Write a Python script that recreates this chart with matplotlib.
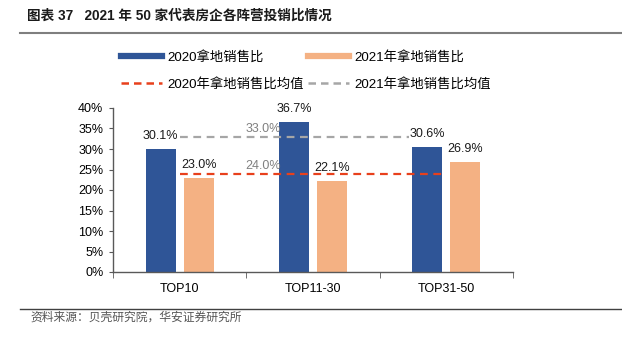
import matplotlib
matplotlib.use('Agg')
import matplotlib.pyplot as plt
from matplotlib.lines import Line2D
import numpy as np

plt.rcParams['font.family'] = ['Liberation Sans', 'Noto Sans CJK SC']

categories = ['TOP10', 'TOP11-30', 'TOP31-50']
ratio_2020 = [30.1, 36.7, 30.6]
ratio_2021 = [23.0, 22.1, 26.9]
avg_red = 24.0     # drawn as the red dashed line
avg_gray = 33.0    # drawn as the grey dashed line
yticks = [0, 5, 10, 15, 20, 25, 30, 35, 40]

blue = '#2F5597'
orange = '#F4B183'
red = '#E8401C'
gray = '#A6A6A6'

fig = plt.figure(figsize=(6.22, 3.43), dpi=100)
ax = fig.add_axes([113/622, 1-272/343, 400/622, 164/343])

x = np.arange(len(categories))
w = 0.225
off = 0.143
b1 = ax.bar(x - off, ratio_2020, w, color=blue, zorder=2)
b2 = ax.bar(x + off, ratio_2021, w, color=orange, zorder=2)

ax.plot([0, 2], [avg_gray, avg_gray], color=gray, lw=1.6, ls=(0, (3.5, 2.5)), zorder=3)
ax.plot([0, 2], [avg_red, avg_red], color=red, lw=1.6, ls=(0, (3.5, 2.5)), zorder=3)

for xi, v in zip(x - off, ratio_2020):
    ax.annotate(f'{v:.1f}%', (xi, v), xytext=(0, 5), textcoords='offset points',
                ha='center', va='bottom', fontsize=9, color='#1a1a1a', zorder=4,
                bbox=dict(boxstyle='square,pad=0.05', fc='white', ec='none'))
for xi, v in zip(x + off, ratio_2021):
    ax.annotate(f'{v:.1f}%', (xi, v), xytext=(0, 5), textcoords='offset points',
                ha='center', va='bottom', fontsize=9, color='#1a1a1a', zorder=4)

# average labels
ax.annotate(f'{avg_gray:.1f}%', (0.625, avg_gray), xytext=(0, 1), textcoords='offset points',
            ha='center', va='bottom', fontsize=9, color='#808080', zorder=4)
ax.annotate(f'{avg_red:.1f}%', (0.625, avg_red), xytext=(0, 1), textcoords='offset points',
            ha='center', va='bottom', fontsize=9, color='#808080', zorder=4)

ax.set_xlim(-0.5, 2.5)
ax.set_ylim(0, 40)
ax.set_yticks(yticks)
ax.set_yticklabels([f'{t}%' for t in yticks], fontsize=9)
ax.set_xticks(x)
ax.set_xticklabels(categories, fontsize=9)
ax.set_xticks([-0.5, 0.5, 1.5, 2.5], minor=True)
ax.tick_params(axis='x', which='major', length=0, pad=8)
ax.tick_params(axis='x', which='minor', length=4, color='#595959')
ax.tick_params(axis='y', length=3, color='#595959', pad=4)
for s in ['top', 'right']:
    ax.spines[s].set_visible(False)
for s in ['left', 'bottom']:
    ax.spines[s].set_color('#595959')
    ax.spines[s].set_linewidth(1)

handles = [
    Line2D([], [], color=blue, lw=4.5),
    Line2D([], [], color=red, lw=1.8, ls=(0, (3, 2))),
    Line2D([], [], color=orange, lw=4.5),
    Line2D([], [], color=gray, lw=1.8, ls=(0, (3, 2))),
]
labels = ['2020拿地销售比', '2020年拿地销售比均值', '2021年拿地销售比', '2021年拿地销售比均值']
fig.legend(handles, labels, ncol=2, loc='upper left', bbox_to_anchor=(121/622, 1-51/343),
           frameon=False, fontsize=9.6, handlelength=3.1, handletextpad=0.4,
           columnspacing=0.3, labelspacing=1.05, borderpad=0, borderaxespad=0)

# header and footer
fig.text(27/622, 1-16/343, '图表 37   2021 年 50 家代表房企各阵营投销比情况',
         fontsize=9.8, fontweight='bold', va='center', ha='left', color='#1a1a1a')
fig.add_artist(Line2D([20/622, 1], [1-33/343, 1-33/343], color='#7f7f7f', lw=1.5))
fig.add_artist(Line2D([20/622, 1], [1-309/343, 1-309/343], color='#404040', lw=1))
fig.text(30/622, 1-318/343, '资料来源：贝壳研究院，华安证券研究所',
         fontsize=8.5, va='center', ha='left', color='#555555')

fig.savefig('out.png', dpi=100)
